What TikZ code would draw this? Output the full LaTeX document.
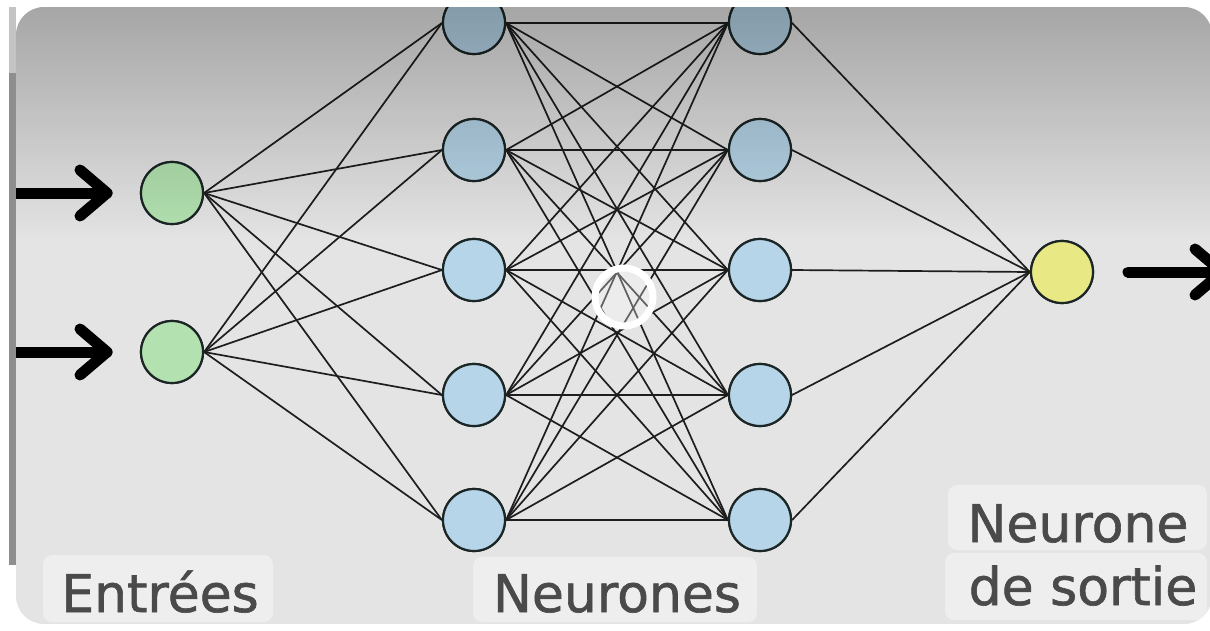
\documentclass[tikz,border=0pt]{standalone}
\usepackage{fontspec}
\setmainfont{DejaVu Sans}
\newfontfamily\lblfont[FakeBold=1.2]{DejaVu Sans}
\usetikzlibrary{fadings,calc}
\definecolor{bgc}{HTML}{E4E4E4}
\definecolor{boxc}{HTML}{EEEEEE}
\definecolor{textc}{HTML}{4A4A4A}
\definecolor{greenc}{HTML}{B3E2B0}
\definecolor{bluec}{HTML}{B6D5E8}
\definecolor{yellowc}{HTML}{E8E884}
\definecolor{edgec}{HTML}{1C2626}
\definecolor{linec}{HTML}{1E1E1E}
\definecolor{barc}{HTML}{8E8E8E}
\definecolor{barlight}{HTML}{C4C4C4}
\tikzfading[name=fadedown, top color=transparent!0, bottom color=transparent!100]
\begin{document}
\begin{tikzpicture}[x=1pt,y=-1pt,
  neuron/.style={circle, draw=edgec, line width=2.2pt, minimum size=62pt, inner sep=0pt},
  inp/.style={neuron, fill=greenc},
  hid/.style={neuron, fill=bluec},
  outp/.style={neuron, fill=yellowc},
  link/.style={draw=linec, line width=1.7pt},
  bigarrow/.style={draw=black, line width=11pt, line cap=round, line join=round},
  lbl/.style={text=textc, font=\lblfont\fontsize{52}{60}\selectfont, anchor=base, inner sep=0pt},
  lblbox/.style={fill=boxc, rounded corners=9pt}]
\useasboundingbox (0,0) rectangle (1210,630);
\fill[white] (0,0) rectangle (1210,630);
\begin{scope}
\clip[rounded corners=28pt] (16,7) rectangle (1212,624);
\fill[bgc] (16,7) rectangle (1212,624);
% label boxes
\fill[lblbox] (43,555) rectangle (273,622);
\fill[lblbox] (473,557) rectangle (757,622);
\fill[lblbox] (948,485) rectangle (1207,550);
\fill[lblbox] (945,553) rectangle (1207,620);
% nodes
\node[inp] (i1) at (172,193) {};
\node[inp] (i2) at (172,352) {};
\foreach \k/\y in {1/23,2/150,3/270,4/395,5/520}{
  \node[hid] (a\k) at (474,\y) {};
  \node[hid] (b\k) at (760,\y) {};
}
\node[outp] (o) at (1062,272) {};
% links
\foreach \i in {1,2}{\foreach \k in {1,...,5}{\draw[link] (i\i.east) -- (a\k.west);}}
\foreach \j in {1,...,5}{\foreach \k in {1,...,5}{\draw[link] (a\j.east) -- (b\k.west);}}
\foreach \k in {1,...,5}{\draw[link] (b\k.east) -- (o.west);}
% redraw nodes on top
\node[inp] at (i1) {};
\node[inp] at (i2) {};
\foreach \k in {1,...,5}{\node[hid] at (a\k) {}; \node[hid] at (b\k) {};}
\node[outp] at (o) {};
% ring
\node[circle, draw=white, line width=7pt, fill=white, fill opacity=0.3, draw opacity=1, minimum size=58pt, inner sep=0pt] (ring) at (624,297) {};
% arrows
\coordinate (s1) at (0,193);
\coordinate (t1) at (107,193);
\coordinate (s2) at (0,352);
\coordinate (t2) at (107,352);
\coordinate (s3) at (1128,272);
\coordinate (t3) at (1222,272);
\draw[bigarrow] (s1) -- (t1);
\draw[bigarrow] ($(t1)+(-27,-23)$) -- (t1) -- ($(t1)+(-27,23)$);
\draw[bigarrow] (s2) -- (t2);
\draw[bigarrow] ($(t2)+(-27,-23)$) -- (t2) -- ($(t2)+(-27,23)$);
\draw[bigarrow] (s3) -- (t3);
\draw[bigarrow] ($(t3)+(-27,-23)$) -- (t3) -- ($(t3)+(-27,23)$);
% top gradient overlay
\fill[black, fill opacity=0.27, path fading=fadedown] (0,7) rectangle (1212,240);
% labels
\node[lbl] (lin) at (160,612) {Entrées};
\node[lbl] (lhid) at (617,612) {Neurones};
\node[lbl] (lout1) at (1078,542) {Neurone};
\node[lbl] (lout2) at (1083,605) {de sortie};
\end{scope}
% left bar
\fill[barlight] (9,7) rectangle (16,73);
\fill[barc] (9,73) rectangle (16,565);
\end{tikzpicture}
\end{document}
